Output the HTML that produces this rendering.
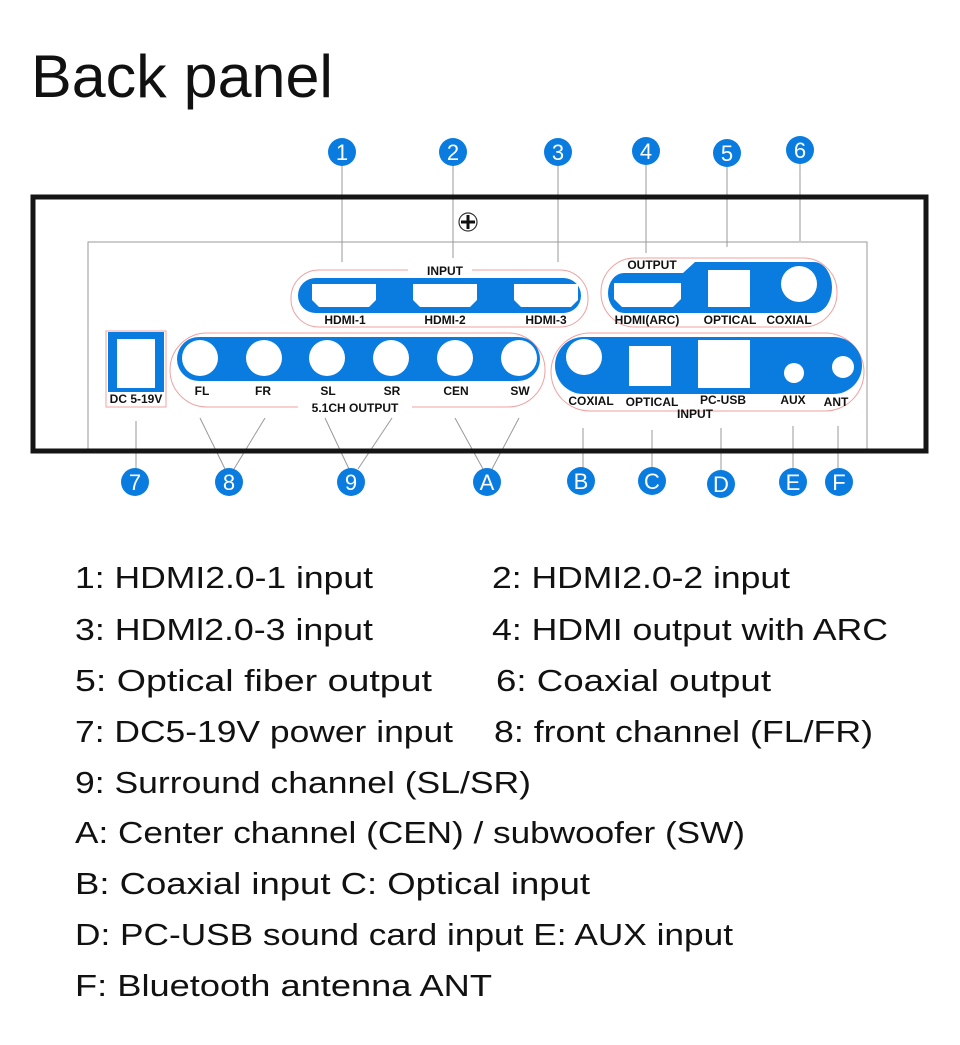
<!DOCTYPE html>
<html><head><meta charset="utf-8"><style>
html,body{margin:0;padding:0;background:#fff;}
svg{display:block;}
.lb{font-family:"Liberation Sans",Arial,sans-serif;font-weight:bold;font-size:12px;fill:#111;text-anchor:middle;}
.n{font-family:"Liberation Sans",Arial,sans-serif;font-size:22px;fill:#fff;text-anchor:middle;}
.t{font-family:"Liberation Sans","Noto Sans CJK SC",sans-serif;font-size:31px;fill:#111;}
</style></head><body>
<svg width="960" height="1045" viewBox="0 0 960 1045" xmlns="http://www.w3.org/2000/svg">
<text x="31" y="97" font-family="Liberation Sans, sans-serif" font-size="60" fill="#111" textLength="302" lengthAdjust="spacingAndGlyphs">Back panel</text>

<g stroke="#999" stroke-width="1" fill="none">
<line x1="342" y1="160" x2="342" y2="262"/>
<line x1="453" y1="160" x2="453" y2="258"/>
<line x1="558" y1="160" x2="558" y2="262"/>
<line x1="646" y1="160" x2="646" y2="253"/>
<line x1="727" y1="160" x2="727" y2="247"/>
<line x1="800" y1="158" x2="800" y2="241"/>
<line x1="136" y1="421" x2="136" y2="470"/>
<line x1="200" y1="418" x2="225" y2="469"/><line x1="265" y1="418" x2="234" y2="469"/>
<line x1="325" y1="418" x2="349" y2="469"/><line x1="392" y1="418" x2="358" y2="469"/>
<line x1="455" y1="418" x2="483" y2="469"/><line x1="519" y1="418" x2="492" y2="469"/>
<line x1="583" y1="428" x2="583" y2="468"/>
<line x1="652" y1="430" x2="652" y2="468"/>
<line x1="721" y1="428" x2="721" y2="470"/>
<line x1="793" y1="426" x2="793" y2="468"/>
<line x1="838" y1="426" x2="838" y2="468"/>
<polyline points="88,452 88,242 867,242 867,452"/>
</g>
<rect x="33" y="197" width="893" height="254" fill="none" stroke="#151515" stroke-width="5"/>
<circle cx="468" cy="222" r="9" fill="#fff" stroke="#333" stroke-width="1.2"/>
<path d="M468 215v14M461 222h14" stroke="#111" stroke-width="3"/>

<rect x="291" y="270" width="297" height="57" rx="28" fill="none" stroke="#f0a0a0" stroke-width="1"/>
<rect x="298" y="278" width="283" height="35" rx="17.5" fill="#0a7ce0"/>
<rect x="408" y="264" width="64" height="13" fill="#fff"/>
<text class="lb" x="445" y="275" font-size="13">INPUT</text>
<g fill="#fff">
<path d="M312 284h64v16l-7 7h-50l-7-7z"/>
<path d="M413 284h64v16l-7 7h-50l-7-7z"/>
<path d="M514 284h64v16l-7 7h-50l-7-7z"/>
</g>
<text class="lb" x="345" y="324">HDMI-1</text>
<text class="lb" x="445" y="324">HDMI-2</text>
<text class="lb" x="546" y="324">HDMI-3</text>

<rect x="601" y="258" width="236" height="69" rx="34" fill="none" stroke="#f0a0a0" stroke-width="1"/>
<path d="M624 273h59l12-11h119a18 25.5 0 0 1 0 51h-190a16 20 0 0 1 0-40z" fill="#0a7ce0"/>
<text class="lb" x="652" y="269" font-size="13">OUTPUT</text>
<g fill="#fff">
<path d="M614 283h67v16l-8 8h-51l-8-8z"/>
<rect x="708" y="270" width="42" height="37"/>
<circle cx="799" cy="284" r="18"/>
</g>
<text class="lb" x="647" y="324" font-size="11">HDMI(ARC)</text>
<text class="lb" x="730" y="324">OPTICAL</text>
<text class="lb" x="789" y="324">COXIAL</text>

<rect x="106" y="331" width="60" height="76" fill="none" stroke="#f0a0a0" stroke-width="1"/>
<rect x="108" y="332" width="56" height="60" fill="#0a7ce0"/>
<rect x="117" y="339" width="38" height="49" fill="#fff"/>
<text class="lb" x="136" y="403" font-size="11">DC 5-19V</text>

<rect x="170" y="333" width="375" height="74" rx="37" fill="none" stroke="#f0a0a0" stroke-width="1"/>
<rect x="177" y="337" width="363" height="44" rx="22" fill="#0a7ce0"/>
<g fill="#fff">
<circle cx="200" cy="358" r="18"/><circle cx="264" cy="358" r="18"/><circle cx="327" cy="358" r="18"/>
<circle cx="391" cy="358" r="18"/><circle cx="455" cy="358" r="18"/><circle cx="519" cy="358" r="18"/>
</g>
<g class="lb"><text x="202" y="395">FL</text><text x="263" y="395">FR</text><text x="328" y="395">SL</text><text x="392" y="395">SR</text><text x="456" y="395">CEN</text><text x="520" y="395">SW</text></g>
<rect x="298" y="400" width="114" height="13" fill="#fff"/>
<text class="lb" x="355" y="412" font-size="13">5.1CH OUTPUT</text>

<rect x="551" y="333" width="313" height="78" rx="39" fill="none" stroke="#f0a0a0" stroke-width="1"/>
<rect x="555" y="337" width="307" height="57" rx="28.5" fill="#0a7ce0"/>
<g fill="#fff">
<circle cx="584" cy="357" r="18"/>
<rect x="629" y="346" width="42" height="40"/>
<rect x="698" y="340" width="52" height="48"/>
<circle cx="794" cy="373" r="10"/>
<circle cx="843" cy="367" r="11"/>
</g>
<g class="lb"><text x="591" y="405">COXIAL</text><text x="652" y="406">OPTICAL</text><text x="723" y="404">PC-USB</text><text x="793" y="404">AUX</text><text x="836" y="406">ANT</text></g>
<text class="lb" x="695" y="418" font-size="13">INPUT</text>

<g fill="#0a7ce0">
<circle cx="342" cy="152" r="14"/><circle cx="453" cy="152" r="14"/><circle cx="558" cy="152" r="14"/>
<circle cx="646" cy="151" r="14"/><circle cx="727" cy="153" r="14"/><circle cx="800" cy="150" r="14"/>
<circle cx="135" cy="482" r="14"/><circle cx="229" cy="482" r="14"/><circle cx="351" cy="482" r="14"/>
<circle cx="487" cy="482" r="14"/><circle cx="581" cy="481" r="14"/><circle cx="652" cy="481" r="14"/>
<circle cx="721" cy="484" r="14"/><circle cx="793" cy="482" r="14"/><circle cx="839" cy="482" r="14"/>
</g>
<g class="n">
<text x="342" y="160">1</text><text x="453" y="160">2</text><text x="558" y="160">3</text>
<text x="646" y="159">4</text><text x="727" y="161">5</text><text x="800" y="158">6</text>
<text x="135" y="490">7</text><text x="229" y="490">8</text><text x="351" y="490">9</text>
<text x="487" y="490">A</text><text x="581" y="489">B</text><text x="652" y="489">C</text>
<text x="721" y="492">D</text><text x="793" y="490">E</text><text x="839" y="490">F</text>
</g>

<g class="t">
<text x="75" y="588" textLength="298" lengthAdjust="spacingAndGlyphs">1: HDMI2.0-1 input</text>
<text x="492" y="588" textLength="298" lengthAdjust="spacingAndGlyphs">2: HDMI2.0-2 input</text>
<text x="75" y="640" textLength="298" lengthAdjust="spacingAndGlyphs">3: HDMl2.0-3 input</text>
<text x="492" y="640" textLength="396" lengthAdjust="spacingAndGlyphs">4: HDMI output with ARC</text>
<text x="75" y="691" textLength="357" lengthAdjust="spacingAndGlyphs">5: Optical fiber output</text>
<text x="496" y="691" textLength="275" lengthAdjust="spacingAndGlyphs">6: Coaxial output</text>
<text x="75" y="742" textLength="378" lengthAdjust="spacingAndGlyphs">7: DC5-19V power input</text>
<text x="494" y="742" textLength="379" lengthAdjust="spacingAndGlyphs">8: front channel (FL/FR)</text>
<text x="75" y="793" textLength="456" lengthAdjust="spacingAndGlyphs">9: Surround channel (SL/SR)</text>
<text x="75" y="843" textLength="670" lengthAdjust="spacingAndGlyphs">A: Center channel (CEN) / subwoofer (SW)</text>
<text x="75" y="894" textLength="515" lengthAdjust="spacingAndGlyphs">B: Coaxial input C: Optical input</text>
<text x="75" y="945" textLength="658" lengthAdjust="spacingAndGlyphs">D: PC-USB sound card input E: AUX input</text>
<text x="75" y="996" textLength="417" lengthAdjust="spacingAndGlyphs">F: Bluetooth antenna ANT</text>
</g>
</svg>
</body></html>
